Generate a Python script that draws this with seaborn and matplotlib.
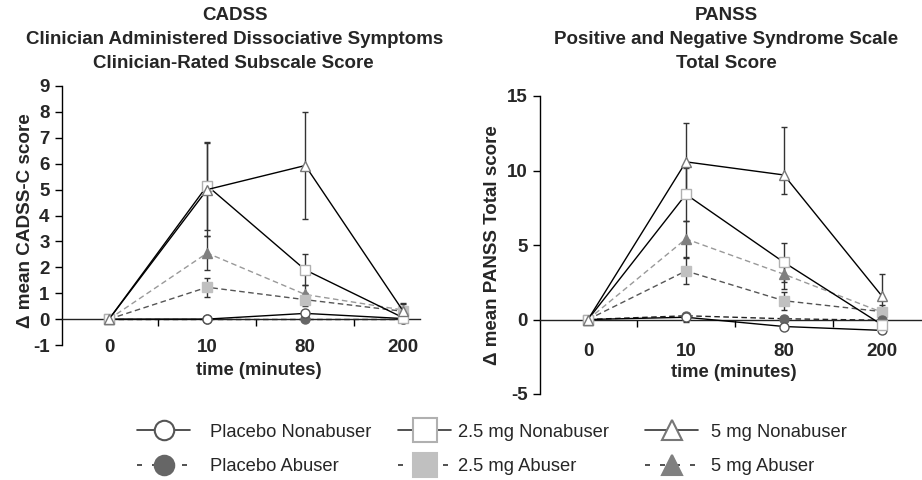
import numpy as np
import pandas as pd
import matplotlib
matplotlib.use('Agg')
import matplotlib.pyplot as plt
from matplotlib.lines import Line2D
import seaborn as sns

# ---------------- data ----------------
time_labels = ['0', '10', '80', '200']
group_labels = ['Placebo Nonabuser', 'Placebo Abuser', '2.5 mg Nonabuser',
                '2.5 mg Abuser', '5 mg Nonabuser', '5 mg Abuser']

# CADSS-C (left panel)
cadss_placebo_non = [0, 0.0, 0.22, 0.02]
cadss_placebo_abu = [0, 0.0, 0.0, 0.0]
cadss_25_non = [0, 5.15, 1.9, 0.05]
cadss_25_abu = [0, 1.23, 0.75, 0.30]
cadss_5_non = [0, 5.0, 5.93, 0.30]
cadss_5_abu = [0, 2.55, 0.95, 0.35]

cadss_placebo_non_err = [0, 0.0, 0.15, 0.05]
cadss_placebo_abu_err = [0, 0.0, 0.0, 0.0]
cadss_25_non_err = [0, 1.7, 0.6, 0.1]
cadss_25_abu_err = [0, 0.37, 0.25, 0.1]
cadss_5_non_err = [0, 1.8, 2.05, 0.33]
cadss_5_abu_err = [0, 0.65, 0.35, 0.25]

# PANSS total (right panel)
panss_placebo_non = [0, 0.15, -0.47, -0.73]
panss_placebo_abu = [0, 0.25, 0.05, -0.05]
panss_25_non = [0, 8.4, 3.84, -0.35]
panss_25_abu = [0, 3.26, 1.26, 0.53]
panss_5_non = [0, 10.58, 9.7, 1.58]
panss_5_abu = [0, 5.41, 3.04, 0.49]

panss_placebo_non_err = [0, 0.3, 0.2, 0.2]
panss_placebo_abu_err = [0, 0.2, 0.2, 0.1]
panss_25_non_err = [0, 1.8, 1.3, 0.3]
panss_25_abu_err = [0, 0.9, 0.6, 0.2]
panss_5_non_err_hi = [0, 2.6, 3.2, 1.45]
panss_5_non_err_lo = [0, 2.2, 1.25, 1.0]
panss_5_abu_err = [0, 1.2, 1.0, 0.5]

# ---------------- styles ----------------
styles = {
    'Placebo Nonabuser': dict(marker='o', mfc='white', mec='#555555', color='black', ls='-', ms=6.5),
    'Placebo Abuser':    dict(marker='o', mfc='#666666', mec='#666666', color='#222222', ls='--', ms=6.5),
    '2.5 mg Nonabuser':  dict(marker='s', mfc='white', mec='#b0b0b0', color='black', ls='-', ms=6.5),
    '2.5 mg Abuser':     dict(marker='s', mfc='#c0c0c0', mec='#c0c0c0', color='#555555', ls='--', ms=6.5),
    '5 mg Nonabuser':    dict(marker='^', mfc='white', mec='#777777', color='black', ls='-', ms=7.5),
    '5 mg Abuser':       dict(marker='^', mfc='#808080', mec='#808080', color='#999999', ls='--', ms=7.5),
}

sns.set_style('white')
plt.rcParams['font.family'] = ['Liberation Sans', 'DejaVu Sans']

fig = plt.figure(figsize=(9.22, 4.80), dpi=100)
W, H = 922, 480

def px_axes(x0, x1, ytop, ybot):
    return fig.add_axes([x0 / W, 1 - ybot / H, (x1 - x0) / W, (ybot - ytop) / H])

ax1 = px_axes(62, 420, 86, 345)
ax2 = px_axes(540, 922, 96, 394)

xpos = np.arange(len(time_labels))

def draw(ax, name, vals, lo, hi):
    st = styles[name]
    ax.errorbar(xpos, vals, yerr=[lo, hi], fmt='none', ecolor='#333333',
                elinewidth=1.0, capsize=2.5, capthick=1.0, zorder=2)
    df = pd.DataFrame({'t': xpos, 'v': vals})
    kw = dict(marker=st['marker'], markerfacecolor=st['mfc'], markeredgecolor=st['mec'],
              markersize=st['ms'], markeredgewidth=1.0, color=st['color'], linewidth=1.0)
    sns.lineplot(data=df, x='t', y='v', ax=ax, errorbar=None,
                 zorder=4 if st['ls'] == '-' else 3, **kw)
    l = ax.lines[-1]
    if st['ls'] == '--':
        l.set_dashes((4, 2.5))

left_series = [
    ('5 mg Abuser', cadss_5_abu, cadss_5_abu_err, cadss_5_abu_err),
    ('2.5 mg Abuser', cadss_25_abu, cadss_25_abu_err, cadss_25_abu_err),
    ('Placebo Abuser', cadss_placebo_abu, cadss_placebo_abu_err, cadss_placebo_abu_err),
    ('Placebo Nonabuser', cadss_placebo_non, cadss_placebo_non_err, cadss_placebo_non_err),
    ('2.5 mg Nonabuser', cadss_25_non, cadss_25_non_err, cadss_25_non_err),
    ('5 mg Nonabuser', cadss_5_non, cadss_5_non_err, cadss_5_non_err),
]
right_series = [
    ('5 mg Abuser', panss_5_abu, panss_5_abu_err, panss_5_abu_err),
    ('2.5 mg Abuser', panss_25_abu, panss_25_abu_err, panss_25_abu_err),
    ('Placebo Abuser', panss_placebo_abu, panss_placebo_abu_err, panss_placebo_abu_err),
    ('Placebo Nonabuser', panss_placebo_non, panss_placebo_non_err, panss_placebo_non_err),
    ('2.5 mg Nonabuser', panss_25_non, panss_25_non_err, panss_25_non_err),
    ('5 mg Nonabuser', panss_5_non, panss_5_non_err_lo, panss_5_non_err_hi),
]
for s in left_series:
    draw(ax1, *s)
for s in right_series:
    draw(ax2, *s)

def style_axes(ax, ylim, yticks, xlim, ylabel, ylab_xy, xlab_xy, xpad, ylab_size):
    ax.set_ylim(*ylim)
    ax.set_xlim(*xlim)
    ax.set_xticks(xpos)
    ax.set_xticks(xpos[:-1] + 0.5, minor=True)
    ax.set_yticks(yticks)
    ax.tick_params(axis='x', which='major', length=0, pad=xpad, labelsize=13.5)
    ax.tick_params(axis='x', which='minor', length=5, width=1, direction='out',
                   color='black', bottom=True)
    ax.tick_params(axis='y', which='major', length=5, width=1, direction='out',
                   color='black', left=True, pad=4, labelsize=13.5)
    ax.set_xticklabels(time_labels)
    ax.set_yticklabels([str(t) for t in yticks])
    for sp in ['top', 'right']:
        ax.spines[sp].set_visible(False)
    ax.spines['bottom'].set_position(('data', 0))
    ax.spines['bottom'].set_color('#222222')
    ax.spines['left'].set_color('black')
    for sp in ['bottom', 'left']:
        ax.spines[sp].set_linewidth(1.0)
    ax.set_ylabel(ylabel, fontweight='bold', fontsize=ylab_size, va='center')
    ax.yaxis.set_label_coords(*ylab_xy)
    ax.set_xlabel('time (minutes)', fontweight='bold', fontsize=13.3, va='center')
    ax.xaxis.set_label_coords(*xlab_xy)
    ax.grid(False)

style_axes(ax1, (-1, 9), list(range(-1, 10)), (-0.48, 3.17), '\u0394 mean CADSS-C score',
           (-0.103, 0.48), (0.55, -0.10), 14, 13.6)
style_axes(ax2, (-5, 15), [-5, 0, 5, 10, 15], (-0.49, 3.41), '\u0394 mean PANSS Total score',
           (-0.125, 0.5), (0.508, 0.073), 17, 13.5)

# titles
def ftext(x, y, s):
    fig.text(x / W, 1 - y / H, s, ha='center', va='center', fontsize=13.5, fontweight='bold')

ftext(235, 16, 'CADSS')
ftext(235, 40, 'Clinician Administered Dissociative Symptoms')
ftext(233, 63, 'Clinician-Rated Subscale Score')
ftext(726, 16, 'PANSS')
ftext(726, 40, 'Positive and Negative Syndrome Scale')
ftext(726, 64, 'Total Score')

# legend
def handle(name):
    st = styles[name]
    return Line2D([], [], marker=st['marker'], markerfacecolor=st['mfc'], markeredgecolor=st['mec'],
                  markeredgewidth=1.5, markersize=14 if st['marker'] != 's' else 17,
                  color='#333333', linewidth=1.2,
                  linestyle='-' if st['ls'] == '-' else (0, (3, 6)))

cols = [(['Placebo Nonabuser', 'Placebo Abuser'], 137, 1.1),
        (['2.5 mg Nonabuser', '2.5 mg Abuser'], 398, 0.35),
        (['5 mg Nonabuser', '5 mg Abuser'], 645, 0.7)]
for names, x0, tpad in cols:
    fig.legend([handle(n) for n in names], names, loc='center left',
               bbox_to_anchor=(x0 / W, 1 - 449.5 / H), frameon=False,
               fontsize=13.2, handlelength=2.9, handletextpad=tpad,
               borderpad=0, borderaxespad=0, labelspacing=0.95)

# make tick labels bold (after ticks exist)
fig.canvas.draw()
for ax in (ax1, ax2):
    for lbl in ax.get_xticklabels() + ax.get_yticklabels():
        lbl.set_fontweight('bold')
        lbl.set_fontsize(13.5)

fig.savefig('out.png', dpi=100)
